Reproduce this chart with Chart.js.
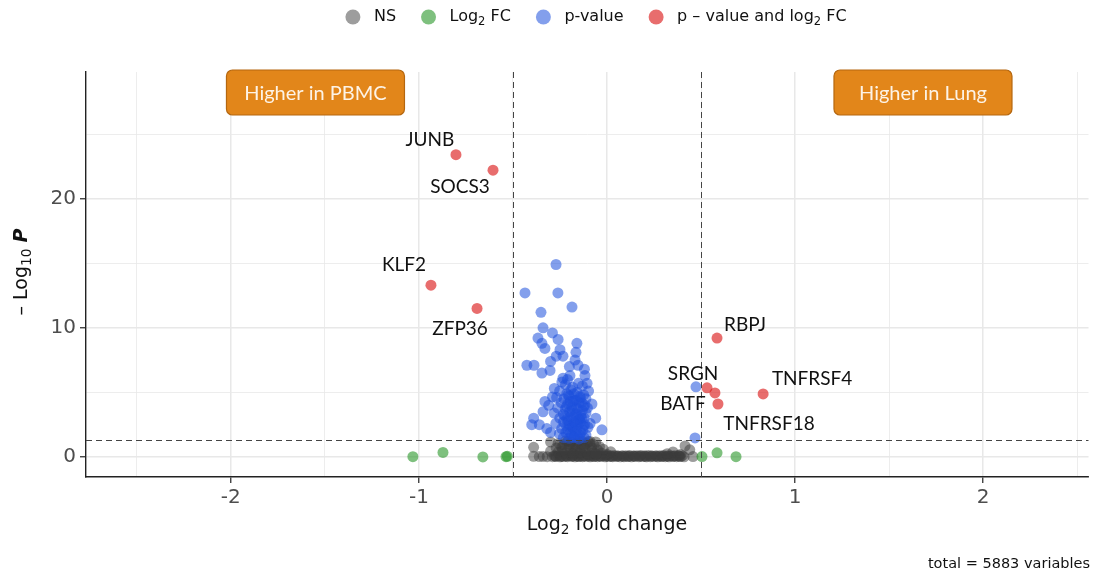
<!DOCTYPE html>
<html>
<head>
<meta charset="utf-8">
<script src="https://cdn.jsdelivr.net/npm/chart.js@4.4.1/dist/chart.umd.min.js"></script>
<style>
  html, body { margin: 0; padding: 0; background: #fff; }
  #wrap { width: 1094px; height: 578px; position: relative; }
</style>
</head>
<body>
<div id="wrap"><canvas id="volcano"></canvas></div>
<script>
// significant in both p-value and log2 FC (labelled genes)
const redX = [-0.803, -0.606, -0.936, -0.691, 0.585, 0.532, 0.574, 0.590, 0.830];
const redY = [23.4, 22.2, 13.3, 11.5, 9.2, 5.35, 4.96, 4.10, 4.88];
const redLabels = ['JUNB', 'SOCS3', 'KLF2', 'ZFP36', 'RBPJ', 'SRGN', 'BATF', 'TNFRSF18', 'TNFRSF4'];

// significant p-value only
const blueX = [
  -0.271, -0.436, -0.261, -0.186, -0.351,
  -0.340, -0.290, -0.367, -0.346, -0.260, -0.160, -0.165,
  -0.250, -0.270, -0.234, -0.170, -0.154,
  -0.426, -0.388, -0.346, -0.303,
  -0.234, -0.197, -0.240, -0.117, -0.106,
  -0.290, -0.310, -0.340, -0.390, -0.400, -0.360, -0.300, -0.090, -0.027,
  0.473, 0.468,
  -0.221, -0.183, -0.152, -0.131,
  -0.252, -0.214, -0.193, -0.158, -0.124, -0.098,
  -0.268, -0.229, -0.201, -0.172, -0.141, -0.112,
  -0.243, -0.209, -0.181, -0.149, -0.118,
  -0.262, -0.222, -0.188, -0.162, -0.131, -0.104,
  -0.281, -0.232, -0.198, -0.169, -0.139, -0.112,
  -0.251, -0.213, -0.179, -0.151, -0.121,
  -0.272, -0.231, -0.202, -0.171, -0.142, -0.118,
  -0.241, -0.209, -0.182, -0.158, -0.128, -0.101,
  -0.253, -0.219, -0.191, -0.168, -0.139, -0.112,
  -0.232, -0.201, -0.176, -0.149, -0.122,
  -0.330, -0.320, -0.280, -0.080, -0.060, -0.210, -0.120, -0.300, -0.200, -0.330,
  -0.205, -0.175, -0.145, -0.195, -0.165, -0.135, -0.215, -0.185, -0.155, -0.125,
  -0.225, -0.195, -0.165, -0.135, -0.205, -0.175, -0.145, -0.215, -0.185, -0.155,
  -0.125, -0.195, -0.165, -0.145, -0.175
];
const blueY = [
  14.9, 12.7, 12.7, 11.6, 11.2,
  10.0, 9.6, 9.2, 8.8, 9.1, 8.8, 8.1,
  8.3, 7.8, 7.8, 7.5, 7.1,
  7.1, 7.1, 6.5, 6.7,
  6.1, 6.3, 5.8, 6.3, 5.7,
  4.65, 4.0, 3.5, 3.0, 2.5, 2.5, 1.9, 2.6, 2.1,
  5.43, 1.47,
  5.6, 5.4, 5.7, 5.5,
  5.1, 4.9, 5.2, 5.0, 4.8, 5.1,
  4.6, 4.5, 4.7, 4.4, 4.6, 4.5,
  4.2, 4.1, 4.3, 4.2, 4.0,
  3.8, 3.7, 3.9, 3.8, 3.6, 3.8,
  3.4, 3.3, 3.5, 3.4, 3.2, 3.4,
  3.0, 2.9, 3.1, 2.9, 3.0,
  2.6, 2.7, 2.5, 2.6, 2.7, 2.5,
  2.2, 2.1, 2.3, 2.2, 2.1, 2.3,
  1.8, 1.9, 1.7, 1.8, 1.9, 1.7,
  1.5, 1.45, 1.5, 1.4, 1.5,
  4.3, 2.2, 5.3, 4.1, 3.0, 6.0, 6.8, 7.4, 7.0, 8.4,
  4.8, 4.9, 4.7, 4.3, 4.4, 4.2, 3.9, 3.6, 3.7, 3.9,
  3.2, 3.1, 3.3, 3.0, 2.8, 2.7, 2.9, 2.4, 2.3, 2.5,
  2.4, 1.9, 2.0, 1.7, 1.55
];

// log2 FC only
const greenX = [-1.032, -0.872, -0.660, -0.537, -0.530, 0.505, 0.585, 0.686];
const greenY = [0.02, 0.35, 0.00, 0.02, 0.05, 0.03, 0.32, 0.02];

// not significant
const grayX = [
  -0.29, -0.27, -0.25, -0.23, -0.21, -0.19, -0.17, -0.15, -0.13, -0.11, -0.09, -0.07,
  -0.05, -0.03, -0.01, 0.01, 0.03, 0.05, 0.07, 0.09, 0.11, 0.13, 0.15, 0.17,
  0.19, 0.21, 0.23, 0.25, 0.27, 0.29, 0.31, 0.33, 0.35, 0.37, 0.39, 0.41,
  -0.28, -0.26, -0.24, -0.22, -0.20, -0.18, -0.16, -0.14, -0.12, -0.10, -0.08, -0.06,
  -0.04, -0.02, 0.00, 0.02, 0.04, 0.06, 0.08, 0.10, 0.12, 0.14, 0.16, 0.18,
  0.20, 0.22, 0.24, 0.26, 0.28, 0.30, 0.32, 0.34, 0.36, 0.38, 0.40,
  -0.275, -0.245, -0.215, -0.185, -0.155, -0.125, -0.095, -0.065, -0.035, -0.005, 0.025, 0.055,
  0.085, 0.115, 0.145, 0.175, 0.205, 0.235, 0.265, 0.295, 0.325, 0.355, 0.385,
  -0.39, -0.36, -0.34, -0.39, 0.457, 0.415, 0.351, 0.320, 0.390, 0.440, -0.318, -0.300,
  -0.30, -0.27, -0.25, -0.22, -0.20, -0.18, -0.16, -0.14, -0.12, -0.10, -0.08, -0.06,
  -0.05, -0.03, -0.24, -0.19, -0.15, -0.11, -0.07, -0.21, -0.17, -0.13, -0.09, 0.00, 0.02,
  -0.26, -0.23, -0.21, -0.19, -0.17, -0.15, -0.13, -0.11, -0.09, -0.07, -0.24, -0.20,
  -0.16, -0.12, -0.08, -0.04, -0.02, -0.26, -0.22, -0.18, -0.14, -0.10, -0.06
];
const grayY = [
  0.02, 0.04, 0.01, 0.03, 0.02, 0.05, 0.01, 0.03, 0.02, 0.04, 0.01, 0.03,
  0.02, 0.05, 0.01, 0.03, 0.02, 0.04, 0.01, 0.02, 0.03, 0.01, 0.04, 0.02,
  0.03, 0.01, 0.02, 0.04, 0.01, 0.03, 0.02, 0.01, 0.04, 0.02, 0.03, 0.01,
  0.09, 0.11, 0.08, 0.10, 0.12, 0.09, 0.11, 0.08, 0.10, 0.12, 0.09, 0.11,
  0.08, 0.10, 0.12, 0.09, 0.11, 0.08, 0.10, 0.09, 0.11, 0.08, 0.10, 0.12,
  0.09, 0.11, 0.08, 0.10, 0.09, 0.11, 0.08, 0.10, 0.09, 0.11, 0.08,
  0.06, 0.05, 0.07, 0.06, 0.05, 0.07, 0.06, 0.05, 0.07, 0.06, 0.05, 0.07,
  0.06, 0.05, 0.07, 0.06, 0.05, 0.07, 0.06, 0.05, 0.07, 0.06, 0.05,
  0.05, 0.03, 0.04, 0.75, 0.03, 0.85, 0.39, 0.25, 0.20, 0.55, 0.02, 0.45,
  1.16, 0.70, 0.90, 1.24, 1.00, 0.80, 1.10, 0.60, 0.90, 1.20, 0.70, 1.16,
  0.55, 0.30, 0.45, 0.35, 0.30, 0.45, 0.30, 0.60, 0.55, 1.20, 1.00, 0.20, 0.40,
  1.05, 0.95, 1.20, 1.15, 1.00, 1.20, 0.85, 1.05, 1.20, 0.95, 0.75, 0.80,
  0.70, 0.65, 0.50, 0.80, 0.60, 0.35, 0.30, 0.25, 0.35, 0.20, 0.25
];

const fcCutoff = 0.5;
const pCutoff = 1.3;

const xMajorTicks = [-2, -1, 0, 1, 2];
const xMinorTicks = [-2.5, -1.5, -0.5, 0.5, 1.5, 2.5];
const yMajorTicks = [0, 10, 20];
const yMinorTicks = [5, 15, 25];

const legendLabels = ['NS', 'Log_{2} FC', 'p-value', 'p \u2013 value and log_{2} FC'];
const boxTexts = ['Higher in PBMC', 'Higher in Lung'];
const boxCentersX = [-1.55, 1.68];

const colNS = 'rgba(60,60,60,0.5)';
const colFC = 'rgba(40,150,40,0.6)';
const colP = 'rgba(30,80,220,0.55)';
const colBoth = 'rgba(220,30,30,0.65)';
const legendColors = [colNS, colFC, colP, colBoth];

// text offsets of the gene labels from their points (px)
const labelOffsets = [[-26, -15], [-33, 17], [-27, -20], [-17, 20], [28, -13], [-14, -14], [-32, 11], [51, 20], [49, -15]];

const toPoints = (xs, ys) => xs.map((x, i) => ({ x: x, y: ys[i] }));

// draw text with _{sub} and *{bold italic} parts
function drawRich(ctx, text, x, y, size, align, color) {
    const parts = text.split(/(_\{[^}]*\}|\*\{[^}]*\})/).filter(p => p !== '');
    const fam = '"DejaVu Sans"';
    const segs = parts.map(p => {
        if (p.startsWith('_{')) return { t: p.slice(2, -1), font: (size * 0.72) + 'px ' + fam, dy: size * 0.3 };
        if (p.startsWith('*{')) return { t: p.slice(2, -1), font: 'italic bold ' + size + 'px ' + fam, dy: 0 };
        return { t: p, font: size + 'px ' + fam, dy: 0 };
    });
    let total = 0;
    segs.forEach(s => { ctx.font = s.font; s.w = ctx.measureText(s.t).width; total += s.w; });
    let cx = align === 'center' ? x - total / 2 : (align === 'right' ? x - total : x);
    ctx.fillStyle = color || '#111';
    ctx.textBaseline = 'middle';
    ctx.textAlign = 'left';
    segs.forEach(s => { ctx.font = s.font; ctx.fillText(s.t, cx, y + s.dy); cx += s.w; });
    return total;
}

function richWidth(ctx, text, size) {
    const parts = text.split(/(_\{[^}]*\})/).filter(p => p !== '');
    let w = 0;
    parts.forEach(p => {
        if (p.startsWith('_{')) { ctx.font = (size * 0.72) + 'px "DejaVu Sans"'; w += ctx.measureText(p.slice(2, -1)).width; }
        else { ctx.font = size + 'px "DejaVu Sans"'; w += ctx.measureText(p).width; }
    });
    return w;
}

function roundRect(ctx, x, y, w, h, r) {
    ctx.beginPath();
    ctx.moveTo(x + r, y);
    ctx.arcTo(x + w, y, x + w, y + h, r);
    ctx.arcTo(x + w, y + h, x, y + h, r);
    ctx.arcTo(x, y + h, x, y, r);
    ctx.arcTo(x, y, x + w, y, r);
    ctx.closePath();
}

const decorations = {
    id: 'decorations',
    afterDatasetsDraw(chart) {
        const ctx = chart.ctx;
        const xs = chart.scales.x, ys = chart.scales.y;
        const area = chart.chartArea;
        ctx.save();

        // cutoff lines
        ctx.strokeStyle = '#444';
        ctx.lineWidth = 1;
        ctx.setLineDash([6, 4]);
        [-fcCutoff, fcCutoff].forEach(v => {
            const px = Math.round(xs.getPixelForValue(v)) + 0.5;
            ctx.beginPath(); ctx.moveTo(px, area.top); ctx.lineTo(px, area.bottom); ctx.stroke();
        });
        const py = Math.round(ys.getPixelForValue(pCutoff)) + 0.5;
        ctx.beginPath(); ctx.moveTo(area.left, py); ctx.lineTo(area.right, py); ctx.stroke();
        ctx.setLineDash([]);

        // gene labels
        ctx.font = '19px Lato';
        ctx.fillStyle = '#111';
        ctx.textAlign = 'center';
        ctx.textBaseline = 'middle';
        redLabels.forEach((lab, i) => {
            const px = xs.getPixelForValue(redX[i]);
            const pyy = ys.getPixelForValue(redY[i]);
            ctx.fillText(lab, px + labelOffsets[i][0], pyy + labelOffsets[i][1]);
        });

        // annotation boxes
        boxTexts.forEach((t, i) => {
            const cx = xs.getPixelForValue(boxCentersX[i]);
            const w = 178, h = 45;
            const bx = cx - w / 2, by = area.top - 2;
            roundRect(ctx, bx, by, w, h, 6);
            ctx.fillStyle = '#E2861A';
            ctx.fill();
            ctx.strokeStyle = '#B5670F';
            ctx.lineWidth = 1.2;
            ctx.stroke();
            ctx.fillStyle = '#fdf3e6';
            ctx.font = '20px Lato';
            ctx.textAlign = 'center';
            ctx.fillText(t, cx, by + h / 2 + 1);
        });
        ctx.restore();
    },
    afterDraw(chart) {
        const ctx = chart.ctx;
        ctx.save();

        // legend
        const size = 16, r = 7.5, gapIn = 13.5, gapOut = 25;
        const widths = legendLabels.map(l => richWidth(ctx, l, size));
        let total = 0;
        widths.forEach((w, i) => { total += r * 2 + gapIn + w + (i < widths.length - 1 ? gapOut : 0); });
        let x = 596 - total / 2;
        const ly = 17;
        legendLabels.forEach((l, i) => {
            ctx.beginPath();
            ctx.arc(x + r, ly, r, 0, Math.PI * 2);
            ctx.fillStyle = legendColors[i];
            ctx.fill();
            x += r * 2 + gapIn;
            drawRich(ctx, l, x, ly, size, 'left', '#111');
            x += widths[i] + gapOut;
        });

        // axis titles
        drawRich(ctx, 'Log_{2} fold change', 607, 525, 19, 'center', '#111');
        ctx.save();
        ctx.translate(22, 272);
        ctx.rotate(-Math.PI / 2);
        drawRich(ctx, '\u2013 Log_{10} *{P}', 0, 0, 19, 'center', '#111');
        ctx.restore();

        // caption
        ctx.font = '14.5px "DejaVu Sans"';
        ctx.fillStyle = '#111';
        ctx.textAlign = 'right';
        ctx.textBaseline = 'middle';
        ctx.fillText('total = 5883 variables', 1090, 564);
        ctx.restore();
    }
};

const isMajor = (list, v) => list.includes(v);

new Chart(document.getElementById('volcano'), {
    type: 'scatter',
    data: {
        datasets: [
            { label: 'p - value and log2 FC', data: toPoints(redX, redY), backgroundColor: colBoth, pointRadius: 5.5, borderWidth: 0 },
            { label: 'p-value', data: toPoints(blueX, blueY), backgroundColor: colP, pointRadius: 5.5, borderWidth: 0 },
            { label: 'Log2 FC', data: toPoints(greenX, greenY), backgroundColor: colFC, pointRadius: 5.5, borderWidth: 0 },
            { label: 'NS', data: toPoints(grayX, grayY), backgroundColor: colNS, pointRadius: 5.5, borderWidth: 0 }
        ]
    },
    options: {
        responsive: true,
        maintainAspectRatio: false,
        animation: false,
        devicePixelRatio: 1,
        layout: { padding: { top: 72, right: 4, left: 0, bottom: 0 } },
        plugins: {
            legend: { display: false },
            tooltip: { enabled: false }
        },
        scales: {
            x: {
                type: 'linear',
                min: -2.77,
                max: 2.56,
                afterBuildTicks: (scale) => {
                    scale.ticks = [...xMinorTicks, ...xMajorTicks].sort((a, b) => a - b).map(v => ({ value: v }));
                },
                afterFit: (scale) => { scale.height = 101; },
                ticks: {
                    autoSkip: false,
                    maxRotation: 0,
                    padding: 3,
                    color: '#4d4d4d',
                    font: { family: 'DejaVu Sans', size: 20 },
                    callback: (v) => isMajor(xMajorTicks, v) ? String(v) : ''
                },
                grid: {
                    color: '#e8e8e8',
                    lineWidth: (c) => (c.tick && isMajor(xMajorTicks, c.tick.value)) ? 1.5 : 0.8,
                    tickColor: (c) => (c.tick && isMajor(xMajorTicks, c.tick.value)) ? '#333' : 'rgba(0,0,0,0)',
                    tickLength: 6,
                    tickWidth: 1.3
                },
                border: { display: true, color: '#222', width: 1.4 }
            },
            y: {
                type: 'linear',
                min: -1.55,
                max: 29.8,
                afterBuildTicks: (scale) => {
                    scale.ticks = [...yMajorTicks, ...yMinorTicks].sort((a, b) => a - b).map(v => ({ value: v }));
                },
                afterFit: (scale) => { scale.width = 86; },
                ticks: {
                    autoSkip: false,
                    padding: 4,
                    color: '#4d4d4d',
                    font: { family: 'DejaVu Sans', size: 20 },
                    callback: (v) => isMajor(yMajorTicks, v) ? String(v) : ''
                },
                grid: {
                    color: '#e8e8e8',
                    lineWidth: (c) => (c.tick && isMajor(yMajorTicks, c.tick.value)) ? 1.5 : 0.8,
                    tickColor: (c) => (c.tick && isMajor(yMajorTicks, c.tick.value)) ? '#333' : 'rgba(0,0,0,0)',
                    tickLength: 6,
                    tickWidth: 1.3
                },
                border: { display: true, color: '#222', width: 1.4 }
            }
        }
    },
    plugins: [decorations]
});
</script>
</body>
</html>
